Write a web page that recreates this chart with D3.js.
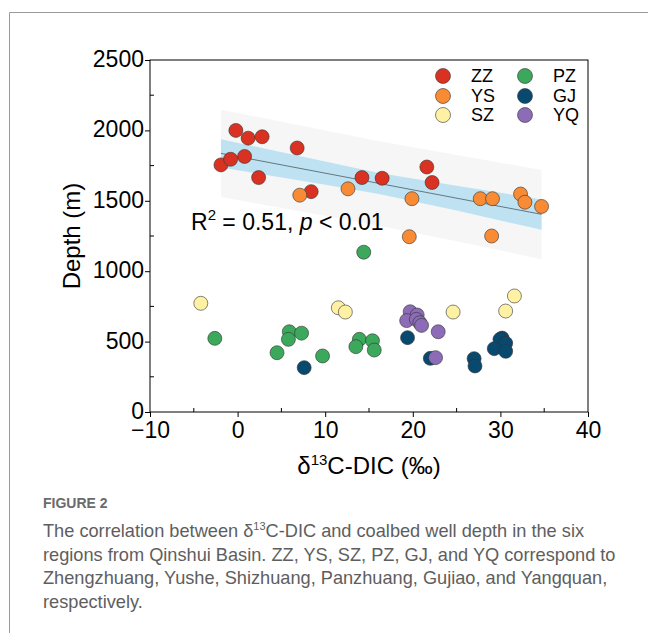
<!DOCTYPE html>
<html><head><meta charset="utf-8">
<script src="https://cdn.jsdelivr.net/npm/d3@7"></script>
<style>
body{margin:0;background:#fff;}
svg text{font-family:"Liberation Sans",Arial,sans-serif;}
</style></head>
<body>
<svg id="chart" width="648" height="633"></svg>
<script>
// ---- data ----
const groups = ["ZZ","YS","SZ","PZ","GJ","YQ"];
const colors = ["#d93222","#f98b35","#fff1a3","#3ba85b","#08496f","#8c6bb7"];
const ZZ = [[-0.2,2000],[1.2,1945],[2.8,1955],[6.8,1875],[-1.9,1755],[-0.8,1795],[0.8,1815],[2.4,1665],[8.4,1565],[14.2,1665],[16.5,1660],[21.6,1740],[22.2,1630]];
const YS = [[7.1,1540],[12.6,1585],[19.9,1515],[27.7,1515],[29.1,1515],[32.3,1548],[32.8,1490],[34.7,1460],[19.6,1245],[29.0,1250]];
const SZ = [[-4.2,772],[11.5,740],[12.3,710],[24.6,710],[30.6,717],[31.6,824]];
const PZ = [[14.4,1135],[-2.6,523],[5.9,570],[7.3,560],[5.8,516],[4.5,421],[9.7,398],[13.9,516],[13.5,464],[15.4,506],[15.6,440]];
const GJ = [[7.6,315],[19.4,528],[22.0,381],[27.0,379],[27.1,327],[30.2,525],[29.95,516],[30.6,488],[29.3,450],[30.6,431]];
const YQ = [[19.7,712],[20.5,689],[19.3,649],[20.4,658],[20.8,634],[21.0,615],[22.9,570],[22.6,386]];
const seriesData = [ZZ,YS,SZ,PZ,GJ,YQ];
// regression line & bands
const fitLine = [[-1.9,1837],[34.7,1404]];
const bandX = [-1.9,8,16,25,34.7];
const ciUpper = [1937,1805,1700,1607,1510];
const ciLower = [1737,1635,1550,1431,1294];
const piUpper = [2147,2025,1925,1825,1719];
const piLower = [1527,1415,1325,1213,1085];
const xTicks = [-10,0,10,20,30,40];
const yTicks = [0,500,1000,1500,2000,2500];

const svg = d3.select("#chart");
// outer frame
svg.append("path").attr("d","M9.5,633 V12.5 H648").attr("fill","none").attr("stroke","#9a9a9a").attr("stroke-width",1);

const x = d3.scaleLinear().domain([-10,40]).range([150,588]);
const y = d3.scaleLinear().domain([0,2500]).range([412,60]);

// bands
const area = (up,lo)=>d3.area().x((d,i)=>x(bandX[i])).y0((d,i)=>y(lo[i])).y1((d,i)=>y(up[i]))(bandX);
svg.append("path").attr("d",area(piUpper,piLower)).attr("fill","#f6f6f6");
svg.append("path").attr("d",area(ciUpper,ciLower)).attr("fill","#bfe2f2");
svg.append("path").attr("d",d3.line().x(d=>x(d[0])).y(d=>y(d[1]))(fitLine)).attr("stroke","#5a6a70").attr("stroke-width",0.9).attr("fill","none");

// box
svg.append("rect").attr("x",150).attr("y",60).attr("width",438).attr("height",352).attr("fill","none").attr("stroke","#000").attr("stroke-width",1);

// axes
const xAxis = d3.axisBottom(x).tickValues(xTicks).tickSize(5).tickFormat(d3.format("d"));
const gx = svg.append("g").attr("transform","translate(0,412)").call(xAxis);
gx.select(".domain").remove();
gx.selectAll("text").attr("font-size",23).attr("dy","0.72em").attr("y",9).attr("fill","#000");
const xMinor = d3.range(-5,40,10);
gx.selectAll(".minor").data(xMinor).join("line").attr("x1",d=>x(d)).attr("x2",d=>x(d)).attr("y1",0).attr("y2",-4).attr("stroke","#000");

const yAxis = d3.axisLeft(y).tickValues(yTicks).tickSize(5).tickFormat(d3.format("d"));
const gy = svg.append("g").attr("transform","translate(150,0)").call(yAxis);
gy.select(".domain").remove();
gy.selectAll("text").attr("font-size",23).attr("x",-6).attr("dy","0.28em").attr("fill","#000");
const yMinor = d3.range(250,2500,500);
gy.selectAll(".minor").data(yMinor).join("line").attr("y1",d=>y(d)).attr("y2",d=>y(d)).attr("x1",0).attr("x2",4).attr("stroke","#000");

// axis titles
const xt = svg.append("text").attr("x",369).attr("y",474).attr("text-anchor","middle").attr("font-size",24);
xt.append("tspan").text("δ");
xt.append("tspan").text("13").attr("font-size",15).attr("dy",-9);
xt.append("tspan").text("C-DIC (‰)").attr("dy",9);
svg.append("text").attr("transform","translate(80,236) rotate(-90)").attr("text-anchor","middle").attr("font-size",24).text("Depth (m)");

// points
seriesData.forEach((s,gi)=>{
  svg.append("g").selectAll("circle").data(s).join("circle")
    .attr("cx",d=>x(d[0])).attr("cy",d=>y(d[1])).attr("r",7)
    .attr("fill",colors[gi]).attr("stroke","#333").attr("stroke-width",0.6);
});

// R2 text
const rt = svg.append("text").attr("x",191).attr("y",230).attr("font-size",23);
rt.append("tspan").text("R");
rt.append("tspan").text("2").attr("font-size",15).attr("dy",-10);
rt.append("tspan").text(" = 0.51, ").attr("dy",10);
rt.append("tspan").text("p").attr("font-style","italic");
rt.append("tspan").text(" < 0.01");

// legend
const legPos = [[443,76],[443,96],[443,115],[525,76],[525,96],[525,115]];
groups.forEach((g,i)=>{
  const [lx,ly]=legPos[i];
  svg.append("circle").attr("cx",lx).attr("cy",ly).attr("r",7.5).attr("fill",colors[i]).attr("stroke","#333").attr("stroke-width",0.6);
  svg.append("text").attr("x",lx+28).attr("y",ly).attr("dy","0.36em").attr("font-size",18).text(g);
});

// caption
svg.append("text").attr("x",43).attr("y",508).attr("font-family","'Open Sans',sans-serif").attr("font-size",14).attr("font-weight",600).attr("fill","#6b6b6b").text("FIGURE 2");
const capLines = [
  ["The correlation between δ","13","C-DIC and coalbed well depth in the six"],
  ["regions from Qinshui Basin. ZZ, YS, SZ, PZ, GJ, and YQ correspond to"],
  ["Zhengzhuang, Yushe, Shizhuang, Panzhuang, Gujiao, and Yangquan,"],
  ["respectively."]
];
capLines.forEach((ln,i)=>{
  const t = svg.append("text").attr("x",43).attr("y",537+i*23.7).attr("font-family","'Open Sans',sans-serif").attr("font-size",18.2).attr("font-weight",400).attr("fill","#5e5e5e");
  if(ln.length===3){
    t.append("tspan").text(ln[0]);
    t.append("tspan").text(ln[1]).attr("font-size",11).attr("dy",-7);
    t.append("tspan").text(ln[2]).attr("dy",7);
  } else t.text(ln[0]);
});
</script>
</body></html>
